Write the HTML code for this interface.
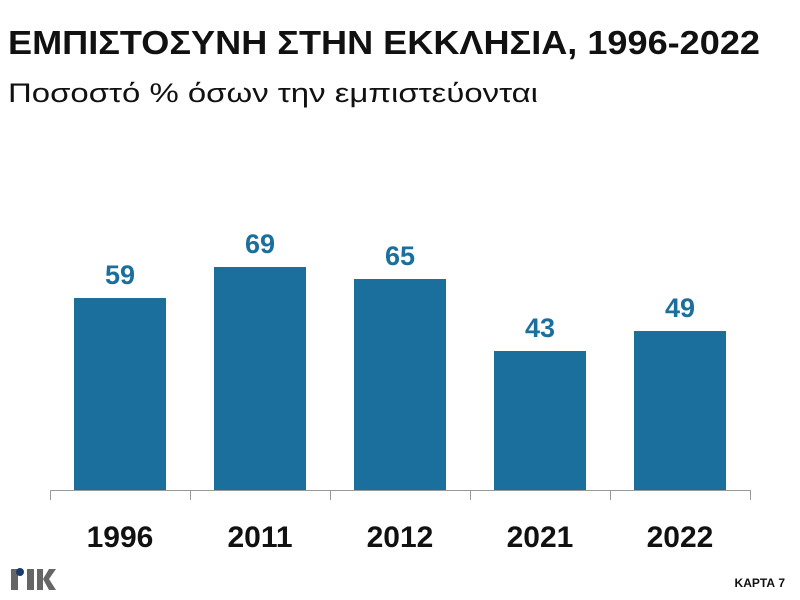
<!DOCTYPE html>
<html><head><meta charset="utf-8"><style>
body{margin:0;width:800px;height:600px;background:#fff;font-family:"Liberation Sans","DejaVu Sans",sans-serif;overflow:hidden}
</style></head><body>
<svg width="800" height="600" xmlns="http://www.w3.org/2000/svg" style="position:absolute;left:0;top:0">
<text x="8" y="54" font-size="33" font-weight="bold" fill="#111" font-family="Liberation Sans, sans-serif" textLength="752" lengthAdjust="spacingAndGlyphs">ΕΜΠΙΣΤΟΣΥΝΗ ΣΤΗΝ ΕΚΚΛΗΣΙΑ, 1996-2022</text>
<text x="8" y="102" font-size="27" fill="#111" font-family="Liberation Sans, sans-serif" textLength="530" lengthAdjust="spacingAndGlyphs">Ποσοστό % όσων την εμπιστεύονται</text>
<g fill="#1b6f9c">
<rect x="74" y="298" width="92" height="192"/>
<rect x="214" y="267" width="92" height="223"/>
<rect x="354" y="279" width="92" height="211"/>
<rect x="494" y="351" width="92" height="139"/>
<rect x="634" y="331" width="92" height="159"/>
</g>
<g fill="#1b6f9c" font-size="27" font-weight="bold" text-anchor="middle">
<text x="120" y="284">59</text>
<text x="260" y="253">69</text>
<text x="400" y="265">65</text>
<text x="540" y="337">43</text>
<text x="680" y="317">49</text>
</g>
<g stroke="#999" stroke-width="1">
<line x1="50" y1="490.5" x2="750" y2="490.5"/>
<line x1="50.5" y1="490" x2="50.5" y2="500"/>
<line x1="190.5" y1="490" x2="190.5" y2="500"/>
<line x1="330.5" y1="490" x2="330.5" y2="500"/>
<line x1="470.5" y1="490" x2="470.5" y2="500"/>
<line x1="610.5" y1="490" x2="610.5" y2="500"/>
<line x1="750.5" y1="490" x2="750.5" y2="500"/>
</g>
<g fill="#111" font-size="30" font-weight="bold" text-anchor="middle">
<text x="120" y="547">1996</text>
<text x="260" y="547">2011</text>
<text x="400" y="547">2012</text>
<text x="540" y="547">2021</text>
<text x="680" y="547">2022</text>
</g>
<g fill="#666">
<rect x="11" y="569" width="7" height="21"/>
<rect x="27" y="569" width="7" height="21"/>
<rect x="37" y="569" width="6" height="21"/>
<polygon points="43,579 49,569 56,569 49,579 56,590 49,590"/>
</g>
<circle cx="20" cy="572" r="4" fill="#1a3a6e"/>
<text x="785" y="587" font-size="12" font-weight="bold" fill="#111" text-anchor="end">ΚΑΡΤΑ 7</text>
</svg>
</body></html>
